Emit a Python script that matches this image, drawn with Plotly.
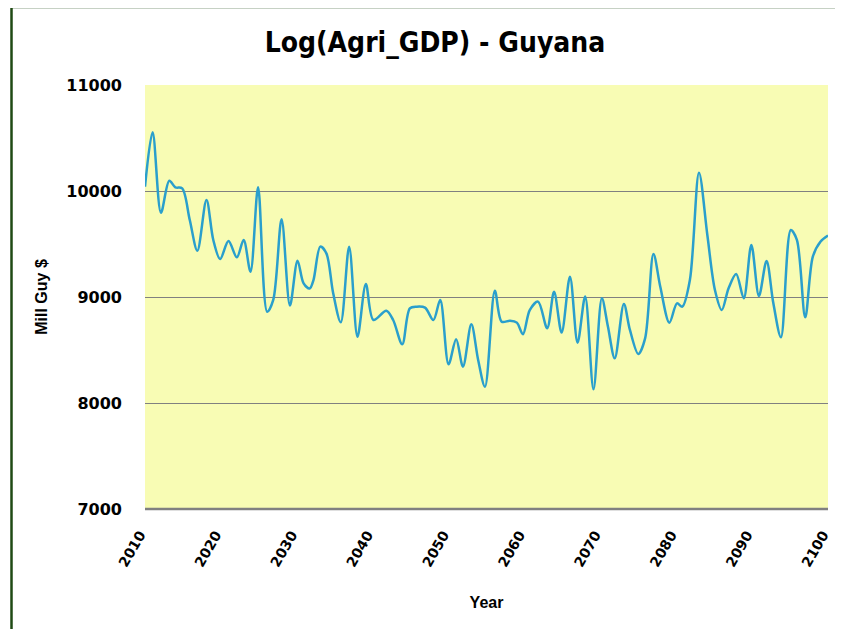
import plotly.graph_objects as go

years = [2010.0, 2011.0, 2012.1, 2013.2, 2014.0, 2014.9, 2015.9, 2016.9, 2018.1, 2019.0,
         2019.9, 2021.0, 2022.1, 2023.0, 2023.9, 2024.9, 2026.1, 2026.9, 2028.0, 2029.1,
         2030.1, 2030.9, 2031.7, 2032.2, 2033.1, 2033.9, 2034.8, 2035.8, 2036.9, 2038.0,
         2039.1, 2040.1, 2041.8, 2042.7, 2043.9, 2044.9, 2045.8, 2046.9, 2048.0, 2048.9,
         2050.0, 2051.0, 2051.9, 2053.0, 2053.9, 2054.8, 2056.1, 2057.0, 2058.1, 2059.0,
         2059.8, 2060.7, 2061.8, 2063.0, 2063.9, 2064.9, 2066.0, 2067.0, 2068.0, 2069.1,
         2070.2, 2071.0, 2071.9, 2073.1, 2073.9, 2075.0, 2075.9, 2077.0, 2077.9, 2079.1,
         2080.1, 2080.8, 2081.8, 2083.0, 2084.1, 2085.1, 2086.0, 2086.9, 2087.9, 2088.9,
         2089.9, 2090.9, 2091.9, 2092.8, 2093.8, 2095.1, 2095.9, 2097.0, 2098.0, 2099.0,
         2100.0]
agri_gdp = [10041, 10554, 9795, 10097, 10035, 10025, 9726, 9437, 9915, 9538,
            9358, 9528, 9374, 9538, 9239, 10035, 8861, 8972, 9733, 8919,
            9343, 9129, 9080, 9160, 9475, 9412, 9035, 8761, 9475, 8626,
            9122, 8783, 8871, 8783, 8554, 8893, 8909, 8900, 8783, 8972,
            8365, 8601, 8343, 8742, 8406, 8154, 9060, 8767, 8777, 8758,
            8648, 8877, 8956, 8705, 9050, 8664, 9192, 8569, 9004, 8129,
            8988, 8721, 8422, 8934, 8689, 8462, 8610, 9406, 9097, 8758,
            8940, 8909, 9160, 10173, 9585, 9066, 8877, 9082, 9217, 8988,
            9491, 9009, 9340, 8940, 8620, 9632, 9538, 8808, 9380, 9522,
            9580]
x_ticks = [2010, 2020, 2030, 2040, 2050, 2060, 2070, 2080, 2090, 2100]
y_ticks = [7000, 8000, 9000, 10000, 11000]

fig = go.Figure()
fig.add_trace(go.Scatter(
    x=years, y=agri_gdp, mode="lines",
    line=dict(color="#2a9fcc", width=2.5, shape="spline", smoothing=0.9),
    showlegend=False, hoverinfo="x+y"))

# page body has an 8px margin; work in page pixels and offset
OFF = 8
W, H = 843 - 2 * OFF, 629 - OFF
L, T, B = 145 - OFF, 85 - OFF, 120
R = (OFF + W) - 828
pw, ph = W - L - R, H - T - B

def px2paper_x(px):
    return (px - OFF - L) / pw

def px2paper_y(py):
    return (H - B - (py - OFF)) / ph

fig.update_layout(
    width=W, height=H,
    margin=dict(l=L, r=R, t=T, b=B),
    paper_bgcolor="white",
    plot_bgcolor="#f8fcb4",
    title=dict(text="Log(Agri_GDP) - Guyana", x=(435 - OFF) / W, xanchor="center",
               y=1 - (42 - OFF) / H, yanchor="middle",
               font=dict(family="DejaVu Sans Condensed, DejaVu Sans", size=28, color="black", weight="bold")),
    xaxis=dict(range=[2010, 2100], tickvals=x_ticks, ticktext=[str(v) for v in x_ticks],
               tickangle=-60, showgrid=False, zeroline=False, showline=False,
               ticks="", ticklabelstandoff=14, ticklabelshift=-5,
               ticklabeloverflow="allow", automargin=False,
               tickfont=dict(family="Verdana, DejaVu Sans", size=14, color="black", weight="bold"),
               title=dict(text="Year", font=dict(family="Liberation Sans Narrow, Arial", size=16, color="black", weight="bold"),
                          standoff=28)),
    yaxis=dict(range=[7000, 11000], tickvals=y_ticks, ticktext=[str(v) for v in y_ticks],
               showgrid=True, gridcolor="#808080", automargin=False,
               gridwidth=1, zeroline=False, showline=False, ticks="",
               ticklabelstandoff=22,
               tickfont=dict(family="Verdana, DejaVu Sans", size=16, color="black", weight="bold"),
               title=dict(text="Mill Guy $", font=dict(family="Liberation Sans Narrow, Arial", size=16, color="black", weight="bold"),
                          standoff=14)),
    shapes=[
        dict(type="line", xref="paper", yref="paper", x0=0, x1=1, y0=0, y1=0,
             line=dict(color="#808080", width=2.5)),
        dict(type="rect", xref="paper", yref="paper",
             x0=px2paper_x(11.5), x1=px2paper_x(843 + 20),
             y0=px2paper_y(629 + 20), y1=px2paper_y(7),
             line=dict(color="#1f4a14", width=2.5), fillcolor="rgba(0,0,0,0)", layer="above"),
    ],
)

fig.write_html("out.html")
